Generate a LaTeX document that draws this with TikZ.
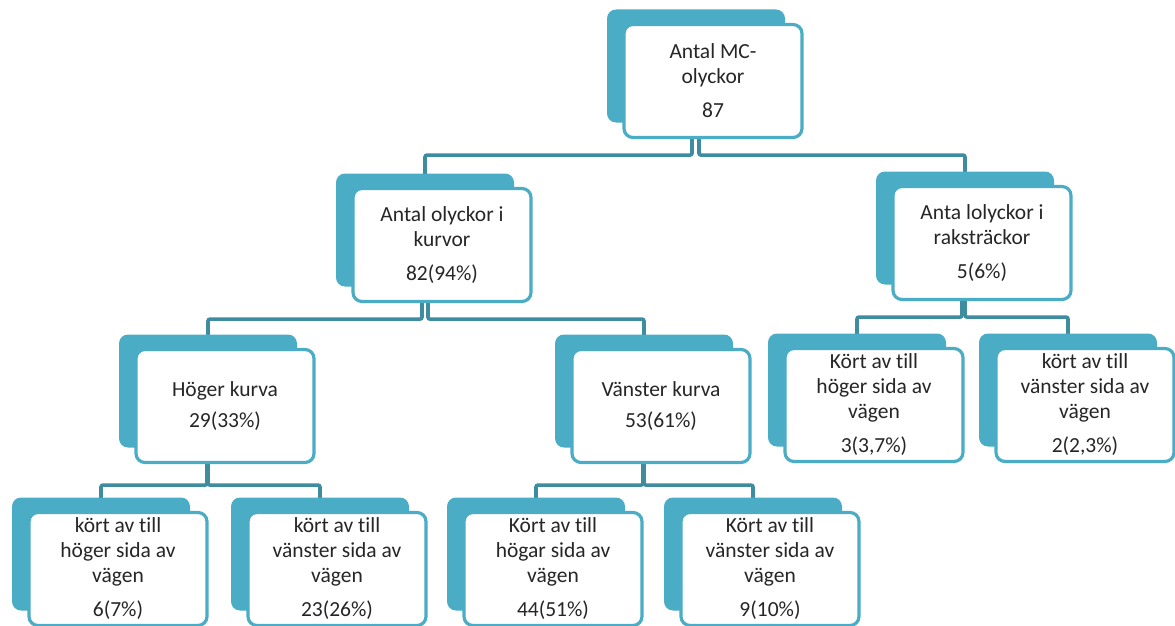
\documentclass[tikz,border=0pt]{standalone}
\usepackage{fontspec}
\setmainfont{Carlito}[Ligatures=NoCommon]
\usetikzlibrary{shadows,backgrounds}
\definecolor{boxteal}{RGB}{75,172,198}
\definecolor{lineteal}{RGB}{62,140,160}
\definecolor{txt}{RGB}{38,38,38}
\tikzset{
  box/.style={draw=boxteal, line width=3.2pt, fill=white, rounded corners=9pt,
    minimum width=178, minimum height=113, inner sep=0pt, align=center,
    text=txt, font=\fontsize{21.5}{25}\selectfont,
    general shadow={fill=boxteal, shadow xshift=-17pt, shadow yshift=15pt}},
  conn/.style={draw=lineteal, line width=3.6pt, rounded corners=2pt}
}
\begin{document}
\begin{tikzpicture}[x=1pt,y=-1pt]
      \useasboundingbox (0,0) rectangle (1175,626);
      \draw
        (713,81) node[box] (mc){Antal MC-\\olyckor\\[9pt]87}
        (442,245) node[box] (kurvor){Antal olyckor i\\kurvor\\[9pt]82(94\%)}
        (982,243) node[box] (rak){Anta lolyckor i\\raksträckor\\[9pt]5(6\%)}
        (225,406) node[box] (hkurva){Höger kurva\\[6pt]29(33\%)}
        (661,406) node[box] (vkurva){Vänster kurva\\[6pt]53(61\%)}
        (874,405) node[box] (rakh){Kört av till\\höger sida av\\vägen\\[9pt]3(3,7\%)}
        (1085,405) node[box] (rakv){kört av till\\vänster sida av\\vägen\\[9pt]2(2,3\%)}
        (118,569) node[box] (hh){kört av till\\höger sida av\\vägen\\[9pt]6(7\%)}
        (337,569) node[box] (hv){kört av till\\vänster sida av\\vägen\\[9pt]23(26\%)}
        (553,569) node[box] (vh){Kört av till\\högar sida av\\vägen\\[9pt]44(51\%)}
        (770,569) node[box] (vv){Kört av till\\vänster sida av\\vägen\\[9pt]9(10\%)};
      \begin{scope}[on background layer]
        \draw[conn] ([xshift=-21]mc.south) -- ++(0,16) -| ([xshift=-17]kurvor.north);
        \draw[conn] ([xshift=-14]mc.south) -- ++(0,16) -| ([xshift=-17]rak.north);
        \draw[conn] ([xshift=-20]kurvor.south) -- ++(0,16) -| ([xshift=-17]hkurva.north);
        \draw[conn] ([xshift=-14]kurvor.south) -- ++(0,16) -| ([xshift=-17]vkurva.north);
        \draw[conn] ([xshift=-20]rak.south) -- ++(0,16) -| ([xshift=-17]rakh.north);
        \draw[conn] ([xshift=-17]rak.south) -- ++(0,16) -| ([xshift=-17]rakv.north);
        \draw[conn] ([xshift=-18]hkurva.south) -- ++(0,21) -| ([xshift=-17]hh.north);
        \draw[conn] ([xshift=-17]hkurva.south) -- ++(0,21) -| ([xshift=-17]hv.north);
        \draw[conn] ([xshift=-18]vkurva.south) -- ++(0,21) -| ([xshift=-17]vh.north);
        \draw[conn] ([xshift=-17]vkurva.south) -- ++(0,21) -| ([xshift=-17]vv.north);
      \end{scope}
    \end{tikzpicture}
\end{document}
